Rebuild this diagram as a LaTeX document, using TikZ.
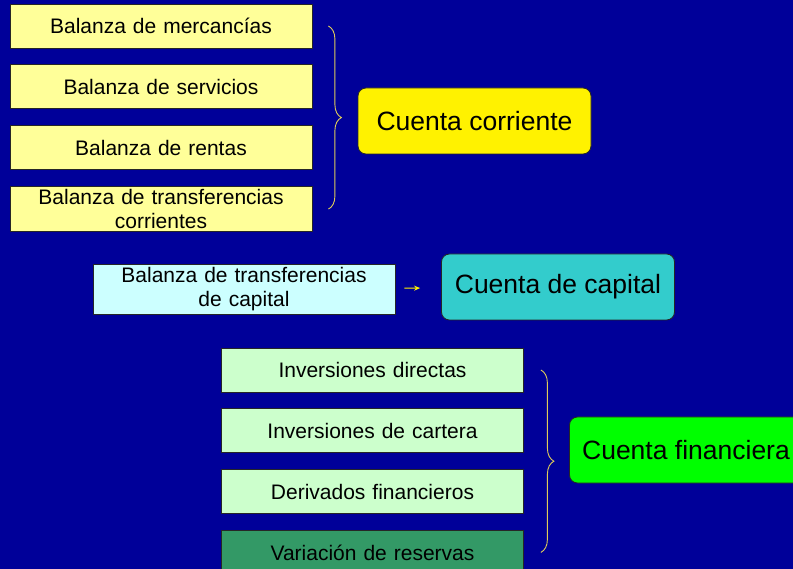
\documentclass[tikz,border=0pt]{standalone}
\usepackage{fontspec}
\setmainfont{Liberation Sans}
\usetikzlibrary{positioning}
\usetikzlibrary{decorations.pathreplacing}
\usetikzlibrary{arrows.meta}
\definecolor{fondo}{RGB}{0,0,153}
\definecolor{amarillo}{RGB}{255,255,153}
\definecolor{celeste}{RGB}{204,255,255}
\definecolor{turquesa}{RGB}{51,204,204}
\definecolor{verdeclaro}{RGB}{204,255,204}
\definecolor{verdeosc}{RGB}{51,153,102}
\definecolor{verde}{RGB}{0,255,0}
\definecolor{llavecol}{RGB}{222,204,90}
\tikzset{
    balanza/.style={
           rectangle,
           draw=black!85, line width=0.8pt,
           minimum height=44pt,
           text width=290pt,
           inner xsep=6pt,
           inner ysep=3pt,
           align=center,
           font=\fontsize{21}{24}\selectfont
           },
    cuenta/.style={
           rectangle,
           rounded corners=8pt,
           draw=black!85, line width=0.8pt,
           minimum height=66pt,
           minimum width=233pt,
           font=\fontsize{26.5}{30}\selectfont
           },
    llave/.style={
           draw=llavecol, line width=0.9pt,
           decorate,
           decoration={brace,amplitude=13pt}
           },
}

\begin{document}
\begin{tikzpicture}
  \clip (0,0) rectangle (793pt,-569pt);
  \fill[fondo] (0,0) rectangle (793pt,-569pt);
     % cuenta corriente
     \node[balanza, fill=amarillo] (merc) at (161pt,-26pt) {Balanza de mercancías};
     \node[balanza, fill=amarillo] (serv) [below=16pt of merc] {Balanza de servicios};
     \node[balanza, fill=amarillo] (rent) [below=16pt of serv] {Balanza de rentas};
     \node[balanza, fill=amarillo] (trans) [below=16pt of rent] {Balanza de transferencias\\corrientes};
     \node[cuenta, fill=yellow] (cc) at (474.5pt,-121pt) {Cuenta corriente};
     \draw[llave] ([xshift=16pt]merc.east) -- ([xshift=16pt]trans.east);
     % cuenta de capital
     \node[balanza, fill=celeste] (cap) at (244pt,-289.5pt) {Balanza de transferencias\\de capital};
     \node[cuenta, fill=turquesa] (ccap) at (558pt,-287pt) {Cuenta de capital};
     \draw[yellow, line width=1pt, -{Stealth[length=6pt,width=5pt]}, shorten <=9pt, shorten >=21pt] (cap) -- (ccap);
     % cuenta financiera
     \node[balanza, fill=verdeclaro] (dir) at (372.5pt,-370pt) {Inversiones directas};
     \node[balanza, fill=verdeclaro] (cart) [below=16pt of dir] {Inversiones de cartera};
     \node[balanza, fill=verdeclaro] (deriv) [below=16pt of cart] {Derivados financieros};
     \node[balanza, fill=verdeosc] (res) [below=16pt of deriv] {Variación de reservas};
     \node[cuenta, fill=verde] (cf) at (686pt,-450pt) {Cuenta financiera};
     \draw[llave] ([xshift=17pt]dir.east) -- ([xshift=17pt]res.east);
\end{tikzpicture}
\end{document}
